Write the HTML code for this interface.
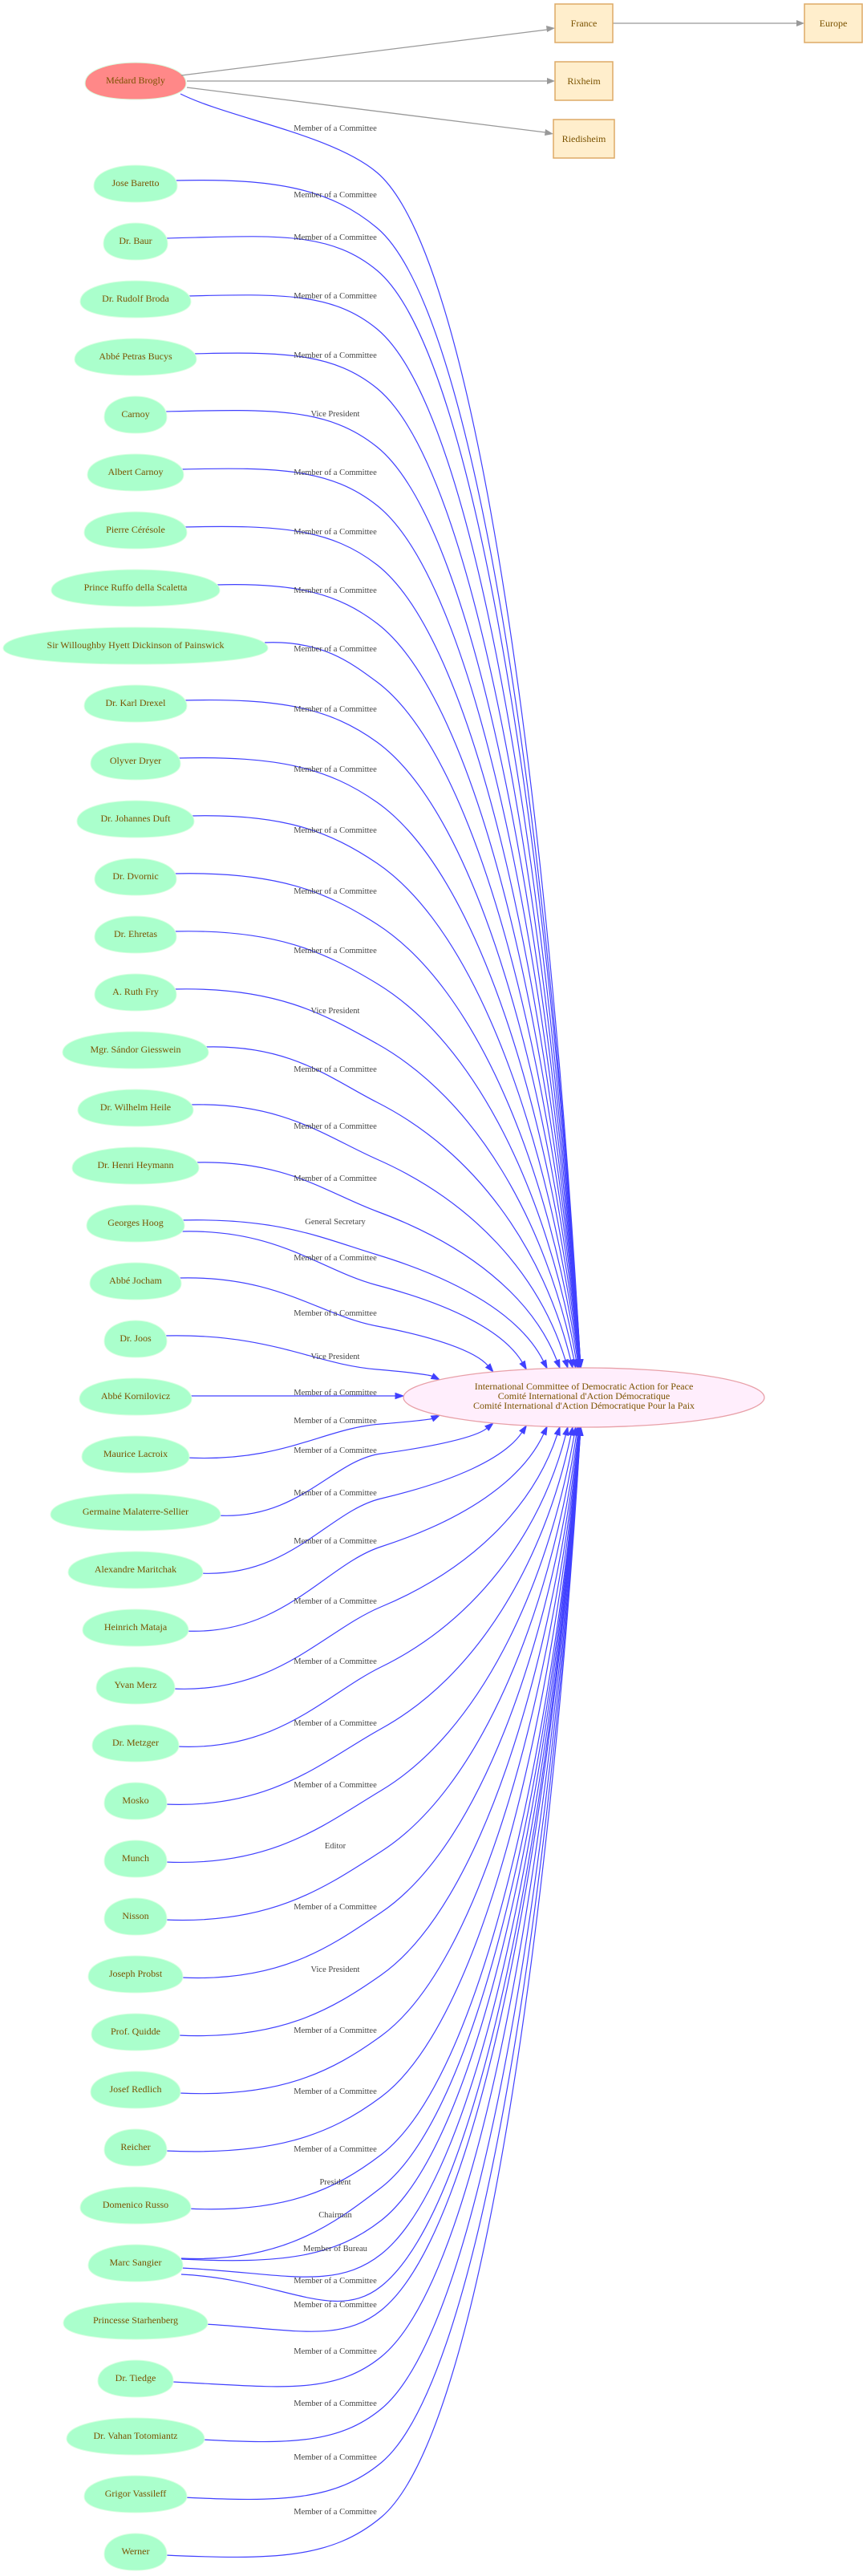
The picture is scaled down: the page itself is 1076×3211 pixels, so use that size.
<!DOCTYPE html>
<html><head><meta charset="utf-8">
<style>
html,body{margin:0;padding:0;background:#fff;}
svg{display:block;}
.n{font-family:"Liberation Serif",serif;font-size:12px;fill:#7a5200;text-anchor:middle;}
.l{font-family:"Liberation Serif",serif;font-size:10.5px;fill:#444;text-anchor:middle;}
</style></head>
<body>
<svg id="s" width="1076" height="3211" viewBox="0 0 1076 3211" xmlns="http://www.w3.org/2000/svg">
<g id="edges"></g>
<g id="shapes"></g>
<!-- gray edges -->
<g stroke="#999" stroke-width="1.3" fill="none">
<path d="M226,94 L682,37"/>
<path d="M233,101 L682,101"/>
<path d="M233,109 L680,165"/>
<path d="M764,29 L993,29"/>
</g>
<g fill="#999">
<polygon points="692,35 681,32 682,40"/>
<polygon points="692,101 682,97 682,105"/>
<polygon points="690,167 680,161 679,169"/>
<polygon points="1003,29 993,25 993,33"/>
</g>
<g fill="#ffeecc" stroke="#ddaa66" stroke-width="1.5">
<rect x="692" y="5" width="72" height="48"/>
<rect x="692" y="77" width="72" height="48"/>
<rect x="690" y="149" width="76" height="48"/>
<rect x="1003" y="5" width="72" height="48"/>
</g>
<g class="n">
<text x="728" y="33">France</text>
<text x="728" y="105">Rixheim</text>
<text x="728" y="177">Riedisheim</text>
<text x="1039" y="33">Europe</text>
</g>
<ellipse cx="728" cy="1742" rx="225" ry="37" fill="#ffeefc" stroke="#e8a0a8" stroke-width="1.3"/>
<g class="n">
<text x="728" y="1732">International Committee of Democratic Action for Peace</text>
<text x="728" y="1744">Comité International d'Action Démocratique</text>
<text x="728" y="1756">Comité International d'Action Démocratique Pour la Paix</text>
</g>
<g class="n">
<text x="169" y="104">Médard Brogly</text>
<text x="169" y="232">Jose Baretto</text>
<text x="169" y="304">Dr. Baur</text>
<text x="169" y="376">Dr. Rudolf Broda</text>
<text x="169" y="448">Abbé Petras Bucys</text>
<text x="169" y="520">Carnoy</text>
<text x="169" y="592">Albert Carnoy</text>
<text x="169" y="664">Pierre Cérésole</text>
<text x="169" y="736">Prince Ruffo  della Scaletta</text>
<text x="169" y="808">Sir Willoughby Hyett Dickinson of Painswick</text>
<text x="169" y="880">Dr. Karl Drexel</text>
<text x="169" y="952">Olyver Dryer</text>
<text x="169" y="1024">Dr. Johannes Duft</text>
<text x="169" y="1096">Dr. Dvornic</text>
<text x="169" y="1168">Dr. Ehretas</text>
<text x="169" y="1240">A. Ruth Fry</text>
<text x="169" y="1312">Mgr. Sándor Giesswein</text>
<text x="169" y="1384">Dr. Wilhelm Heile</text>
<text x="169" y="1456">Dr. Henri Heymann</text>
<text x="169" y="1528">Georges Hoog</text>
<text x="169" y="1600">Abbé Jocham</text>
<text x="169" y="1672">Dr. Joos</text>
<text x="169" y="1744">Abbé Kornilovicz</text>
<text x="169" y="1816">Maurice Lacroix</text>
<text x="169" y="1888">Germaine Malaterre-Sellier</text>
<text x="169" y="1960">Alexandre Maritchak</text>
<text x="169" y="2032">Heinrich Mataja</text>
<text x="169" y="2104">Yvan Merz</text>
<text x="169" y="2176">Dr. Metzger</text>
<text x="169" y="2248">Mosko</text>
<text x="169" y="2320">Munch</text>
<text x="169" y="2392">Nisson</text>
<text x="169" y="2464">Joseph Probst</text>
<text x="169" y="2536">Prof. Quidde</text>
<text x="169" y="2608">Josef Redlich</text>
<text x="169" y="2680">Reicher</text>
<text x="169" y="2752">Domenico Russo</text>
<text x="169" y="2824">Marc Sangier</text>
<text x="169" y="2896">Princesse Starhenberg</text>
<text x="169" y="2968">Dr. Tiedge</text>
<text x="169" y="3040">Dr. Vahan Totomiantz</text>
<text x="169" y="3112">Grigor Vassileff</text>
<text x="169" y="3184">Werner</text>
</g>
<g class="l">
<text x="418" y="163">Member of a Committee</text>
<text x="418" y="246">Member of a Committee</text>
<text x="418" y="299">Member of a Committee</text>
<text x="418" y="372">Member of a Committee</text>
<text x="418" y="446">Member of a Committee</text>
<text x="418" y="519">Vice President</text>
<text x="418" y="592">Member of a Committee</text>
<text x="418" y="666">Member of a Committee</text>
<text x="418" y="739">Member of a Committee</text>
<text x="418" y="812">Member of a Committee</text>
<text x="418" y="887">Member of a Committee</text>
<text x="418" y="962">Member of a Committee</text>
<text x="418" y="1038">Member of a Committee</text>
<text x="418" y="1114">Member of a Committee</text>
<text x="418" y="1188">Member of a Committee</text>
<text x="418" y="1263">Vice President</text>
<text x="418" y="1336">Member of a Committee</text>
<text x="418" y="1407">Member of a Committee</text>
<text x="418" y="1472">Member of a Committee</text>
<text x="418" y="1526">General Secretary</text>
<text x="418" y="1571">Member of a Committee</text>
<text x="418" y="1640">Member of a Committee</text>
<text x="418" y="1694">Vice President</text>
<text x="418" y="1739">Member of a Committee</text>
<text x="418" y="1774">Member of a Committee</text>
<text x="418" y="1811">Member of a Committee</text>
<text x="418" y="1864">Member of a Committee</text>
<text x="418" y="1924">Member of a Committee</text>
<text x="418" y="1999">Member of a Committee</text>
<text x="418" y="2074">Member of a Committee</text>
<text x="418" y="2151">Member of a Committee</text>
<text x="418" y="2228">Member of a Committee</text>
<text x="418" y="2304">Editor</text>
<text x="418" y="2380">Member of a Committee</text>
<text x="418" y="2458">Vice President</text>
<text x="418" y="2534">Member of a Committee</text>
<text x="418" y="2610">Member of a Committee</text>
<text x="418" y="2682">Member of a Committee</text>
<text x="418" y="2723">President</text>
<text x="418" y="2764">Chairman</text>
<text x="418" y="2806">Member of Bureau</text>
<text x="418" y="2846">Member of a Committee</text>
<text x="418" y="2876">Member of a Committee</text>
<text x="418" y="2934">Member of a Committee</text>
<text x="418" y="2999">Member of a Committee</text>
<text x="418" y="3066">Member of a Committee</text>
<text x="418" y="3134">Member of a Committee</text>
</g>
</svg>
<script>
(function(){
var NS="http://www.w3.org/2000/svg";
var nodes=[[100,63,1],[228,52],[300,40],[372,69],[444,76],[516,39],[588,60],[660,64],[732,105],[804,165],[876,64],[948,56],[1020,73],[1092,51],[1164,51],[1236,51],[1308,91],[1380,72],[1452,79],[1524,61],[1596,57],[1668,39],[1740,70],[1812,67],[1884,106],[1956,84],[2028,66],[2100,49],[2172,54],[2244,39],[2316,39],[2388,39],[2460,59],[2532,55],[2604,56],[2676,39],[2748,69],[2820,59],[2892,90],[2964,47],[3036,86],[3108,64],[3180,39]];
var sh=document.getElementById('shapes'),eg=document.getElementById('edges');
function f(v){return v.toFixed(1);}
nodes.forEach(function(n){
 var cx=169,cy=n[0]+1,rx=n[1],ry=23;
 var d="M"+f(cx-rx)+","+f(cy+3)+" C"+f(cx-rx)+","+f(cy+3-ry*0.8)+" "+f(cx-rx*0.45)+","+f(cy-ry)+" "+cx+","+f(cy-ry)+
 " C"+f(cx+rx*0.45)+","+f(cy-ry)+" "+f(cx+rx)+","+f(cy+3-ry*0.8)+" "+f(cx+rx)+","+f(cy+3)+
 " C"+f(cx+rx)+","+f(cy+3+ry*0.6)+" "+f(cx+rx*0.55)+","+f(cy+ry)+" "+cx+","+f(cy+ry)+
 " C"+f(cx-rx*0.55)+","+f(cy+ry)+" "+f(cx-rx)+","+f(cy+3+ry*0.6)+" "+f(cx-rx)+","+f(cy+3)+"Z";
 var p=document.createElementNS(NS,'path');p.setAttribute('d',d);
 p.setAttribute('fill',n[2]?'#ff8888':'#aaffcc');p.setAttribute('stroke','#d8ffe0');p.setAttribute('stroke-width','1');
 sh.appendChild(p);
});
// upper: [nodeY, rx, labelY, startYoverride]
var up=[[100,63,159,117],[228,52,242],[300,40,295],[372,69,368],[444,76,442],[516,39,515],[588,60,588],[660,64,662],[732,105,735],[804,165,808],[876,64,883],[948,56,958],[1020,73,1034],[1092,51,1110],[1164,51,1184],[1236,51,1259],[1308,91,1332],[1380,72,1403],[1452,79,1468],[1524,61,1522,1521],[1524,61,1567,1535],[1596,57,1636],[1668,39,1690]];
var lo=[[1812,67,1770],[1884,106,1807],[1956,84,1860],[2028,66,1920],[2100,49,1995],[2172,54,2070],[2244,39,2147],[2316,39,2224],[2388,39,2300],[2460,59,2376],[2532,55,2454],[2604,56,2530],[2676,39,2606],[2748,69,2678],[2820,59,2719,2815],[2820,59,2760,2816],[2820,59,2802,2827],[2820,59,2842,2835],[2892,90,2872],[2964,47,2930],[3036,86,2995],[3108,64,3062],[3180,39,3130]];
var col='#4040ff';
function norm(x,y){var l=Math.sqrt(x*x+y*y);return [x/l,y/l];}
function edge(e,d,upper){
 var off=176*Math.pow(0.62,d-1)+4;
 var ex=728-off, ey=1742+(upper?-1:1)*37*Math.sqrt(Math.max(0,1-(off/225)*(off/225)));
 var sx=169+e[1]-(e[1]>60?4:2), sy=e[3]!==undefined?e[3]:e[0]+(upper?-3:5);
 if(e[0]==100){sx=225;}
 var mo;
 if(upper){mo=d<=2?17:(d==3?35:42); if(e[0]==100) mo=56;}
 else{mo=d<=2?5:8;}
 var mx=upper?470:475, my=e[2]+mo;
 var D=norm(ex-mx,ey-my);
 var DM=norm(D[0]+1,D[1]);
 var k=0.3*(mx-sx);
 var c1x=sx+0.5*(mx-sx), c1y=sy+(upper?-3:6);
 if(e[0]==100){c1x=sx+60;c1y=sy+30;}
 var c2x=mx-DM[0]*k, c2y=mx? my-DM[1]*k:0;
 var s2=0.5*(ex-mx)/DM[0];
 var d1x=mx+DM[0]*s2, d1y=my+DM[1]*s2;
 var d2x=ex-0.15*(ex-mx), d2y=ey-0.45*(ey-my);
 // end tangent
 var T=norm(ex-d2x,ey-d2y);
 var bx=ex-T[0]*10, by=ey-T[1]*10;
 var dd="M"+f(sx)+","+f(sy)+" C"+f(c1x)+","+f(c1y)+" "+f(c2x)+","+f(c2y)+" "+f(mx)+","+f(my)+
 " C"+f(d1x)+","+f(d1y)+" "+f(d2x)+","+f(d2y)+" "+f(bx)+","+f(by);
 add(dd,ex,ey,T);
}
function add(dd,ex,ey,T){
 var p=document.createElementNS(NS,'path');p.setAttribute('d',dd);
 p.setAttribute('fill','none');p.setAttribute('stroke',col);p.setAttribute('stroke-width','1.2');
 eg.appendChild(p);
 var bx=ex-T[0]*10, by=ey-T[1]*10, nx=-T[1]*3.5, ny=T[0]*3.5;
 var a=document.createElementNS(NS,'polygon');
 a.setAttribute('points',f(ex)+","+f(ey)+" "+f(bx+nx)+","+f(by+ny)+" "+f(bx-nx)+","+f(by-ny));
 a.setAttribute('fill',col);a.setAttribute('stroke',col);a.setAttribute('stroke-width','1');
 eg.appendChild(a);
}
up.forEach(function(e,i){edge(e,up.length-i,true);});
lo.forEach(function(e,i){edge(e,i+1,false);});
add("M238,1740 L493,1740",503,1740,[1,0]);
})();
</script>
</body></html>
